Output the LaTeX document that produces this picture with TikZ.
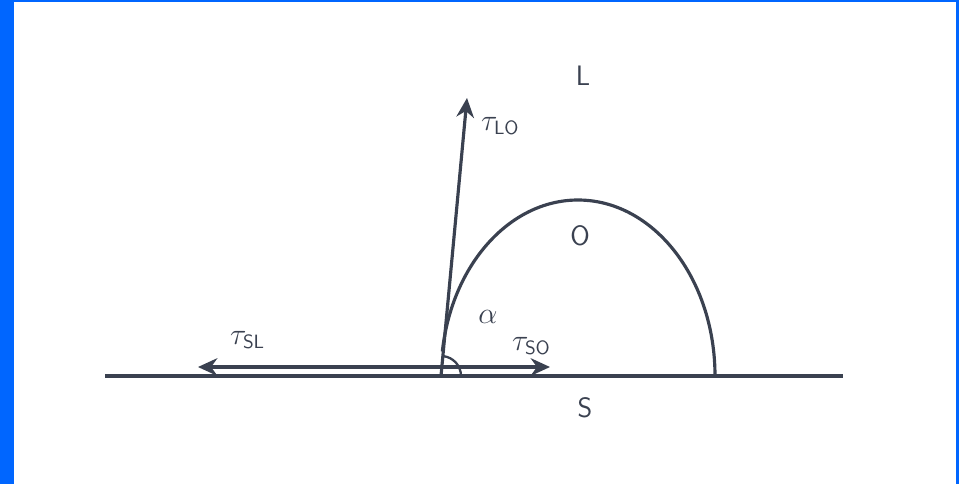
\documentclass[tikz,border=0pt]{standalone}
\usepackage{amsmath, amssymb}
\usepackage{xcolor}
\usepackage{tikz}
\usetikzlibrary{positioning,arrows.meta,calc}
\definecolor{frameblue}{HTML}{0066FF}
\definecolor{inkgray}{HTML}{3A4150}

\begin{document}
\begin{tikzpicture}[x=0.02cm, y=-0.02cm,
    ink/.style={draw=inkgray, line width=1.8pt},
    force/.style={ink, -{Stealth[length=11pt, width=10pt]}},
    lbl/.style={text=inkgray, font=\fontsize{16}{18}\selectfont\sffamily, inner sep=1pt}]
    % frame
    \fill[frameblue] (0,0) rectangle (959,484);
    \fill[white] (14,2) rectangle (956,484);
    \useasboundingbox (0,0) rectangle (959,484);
    % points
    \coordinate (p) at (441,376);
    \coordinate (sleft) at (105,376);
    \coordinate (sright) at (843,376);
    \coordinate (q) at (441,367);
    \coordinate (tipsl) at (198,367);
    \coordinate (tipso) at (550,367);
    \coordinate (tiplo) at (467,98);
    \coordinate (dropend) at (715,376);
    % solid surface and forces
    \draw[ink, line width=2.4pt] (sleft) -- (sright);
    \draw[force] (q) -- (tipsl);
    \draw[force] (q) -- (tipso);
    \draw[force] (p) -- (tiplo);
    % drop profile
    \draw[ink] (dropend) arc[start angle=0, end angle=-172, x radius=137, y radius=176];
    % contact angle
    \draw[ink, line width=1.3pt] ($(p)+(20,0)$) arc[start angle=0, end angle=-84, radius=20];
    % labels
    \node[lbl, anchor=west] (lo) at (479,126) {$\tau_{\mathsf{LO}}$};
    \node[lbl, anchor=west] (sl) at (228,340) {$\tau_{\mathsf{SL}}$};
    \node[lbl, anchor=west] (so) at (510,346) {$\tau_{\mathsf{SO}}$};
    \node[lbl] (al) at (488,317) {$\alpha$};
    \node[lbl] (l) at (583,76) {L};
    \node[lbl] (o) at (580,236) {O};
    \node[lbl] (s) at (585,408) {S};
\end{tikzpicture}
\end{document}
